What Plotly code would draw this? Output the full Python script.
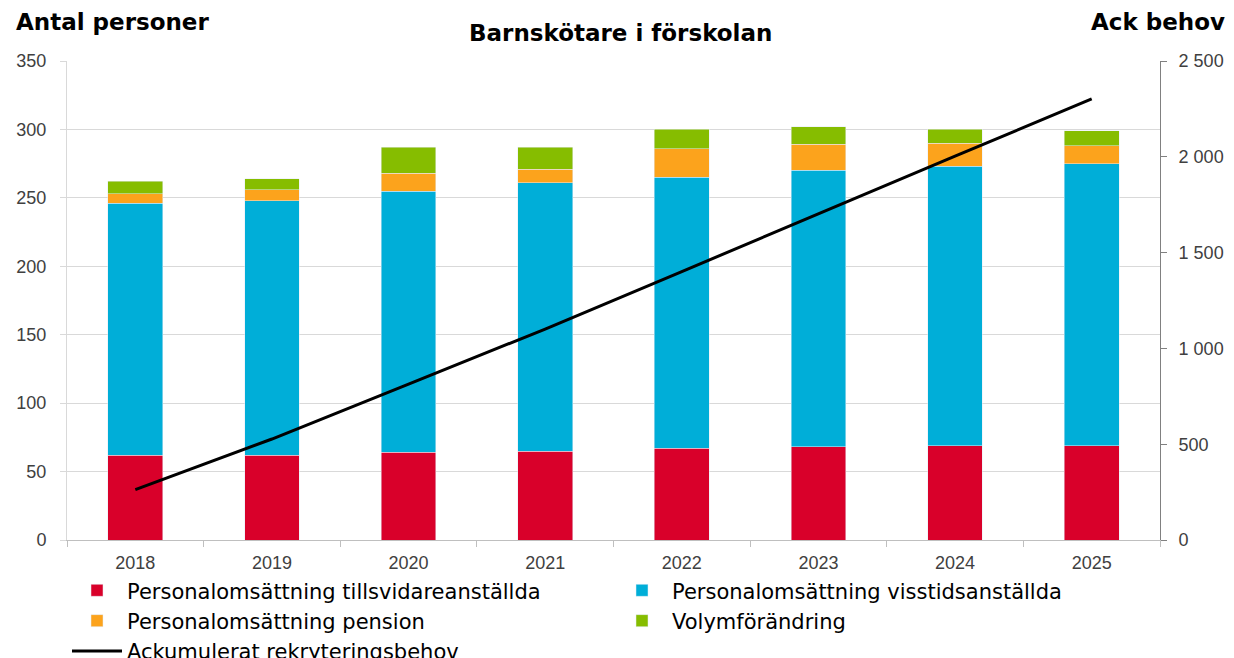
import plotly.graph_objects as go

years = ["2018", "2019", "2020", "2021", "2022", "2023", "2024", "2025"]

tillsvidare = [62, 62, 64, 65, 67, 68, 69, 69]
visstid = [184, 186, 191, 196, 198, 202, 204, 206]
pension = [7, 8, 13, 10, 21, 19, 17, 13]
volym = [9, 8, 19, 16, 14, 13, 10, 11]
ack_behov = [263, 527, 814, 1101, 1401, 1703, 2003, 2302]

font = "Liberation Sans, Arial, sans-serif"
wide = "DejaVu Sans, sans-serif"

fig = go.Figure()
fig.add_bar(x=years, y=tillsvidare, name="Personalomsättning tillsvidareanställda",
            marker=dict(color="#D9002A"))
fig.add_bar(x=years, y=visstid, name="Personalomsättning visstidsanställda",
            marker=dict(color="#00AED8"))
fig.add_bar(x=years, y=pension, name="Personalomsättning pension",
            marker=dict(color="#FCA31C"))
fig.add_bar(x=years, y=volym, name="Volymförändring",
            marker=dict(color="#86BD00"))
fig.add_scatter(x=years, y=ack_behov, name="Ackumulerat rekryteringsbehov",
                mode="lines", line=dict(color="black", width=3), yaxis="y2")

# page has an 8px body margin, so margins are shifted by that
fig.update_layout(
    barmode="stack",
    bargap=0.6,
    width=1234,
    height=658,
    margin=dict(l=59, r=82, t=53, b=126, autoexpand=False),
    plot_bgcolor="white",
    paper_bgcolor="white",
    separators=", ",
    font=dict(family=font, size=18, color="#404040"),
    xaxis=dict(
        showline=True, linecolor="#BFBFBF", ticks="outside", tickcolor="#BFBFBF",
        ticklen=6, tickson="boundaries", ticklabelstandoff=6,
        tickfont=dict(size=18, color="#404040"),
    ),
    yaxis=dict(
        range=[0, 350], dtick=50, showgrid=True, gridcolor="#D9D9D9",
        showline=True, linecolor="#D9D9D9", ticks="outside", tickcolor="#D9D9D9",
        ticklen=6, zeroline=False, ticklabelstandoff=10,
        tickfont=dict(size=18, color="#404040"),
    ),
    yaxis2=dict(
        range=[0, 2500], dtick=500, overlaying="y", side="right",
        showgrid=False, showline=True, linecolor="#808080", ticks="outside",
        tickcolor="#808080", ticklen=6, tickformat=",d", zeroline=False,
        ticklabelstandoff=8, tickfont=dict(size=18, color="#404040"),
    ),
    legend=dict(
        orientation="h", x=0.0, y=-0.063, xanchor="left", yanchor="top",
        entrywidth=480, entrywidthmode="pixels", traceorder="normal",
        font=dict(family=wide, size=21, color="#000000"), itemwidth=50,
        tracegroupgap=0,
    ),
    showlegend=True,
)

fig.add_annotation(text="<b>Antal personer</b>", xref="paper", yref="paper",
                   x=-0.0485, y=1.081, xanchor="left", yanchor="middle",
                   showarrow=False, font=dict(size=23, color="black", family=wide))
fig.add_annotation(text="<b>Barnskötare i förskolan</b>", xref="paper", yref="paper",
                   x=0.506, y=1.0585, xanchor="center", yanchor="middle",
                   showarrow=False, font=dict(size=23, color="black", family=wide))
fig.add_annotation(text="<b>Ack behov</b>", xref="paper", yref="paper",
                   x=1.0613, y=1.081, xanchor="right", yanchor="middle",
                   showarrow=False, font=dict(size=23, color="black", family=wide))

fig.write_html("out.html")
